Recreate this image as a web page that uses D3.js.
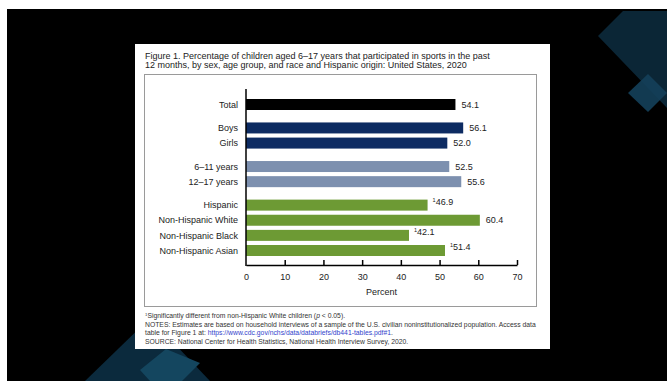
<!DOCTYPE html>
<html><head><meta charset="utf-8">
<script src="https://cdn.jsdelivr.net/npm/d3@7"></script>
<style>html,body{margin:0;padding:0;background:#fff;overflow:hidden}svg{display:block}</style>
</head><body>
<script>
const categories = ["Total","Boys","Girls","6–11 years","12–17 years","Hispanic","Non-Hispanic White","Non-Hispanic Black","Non-Hispanic Asian"];
const values = [54.1,56.1,52.0,52.5,55.6,46.9,60.4,42.1,51.4];
const groups = [0,1,1,2,2,3,3,3,3];
const significant = [false,false,false,false,false,true,false,true,true];
const groupColors = ["#000000","#0d2b62","#7d90af","#6d9a34"];
const xTicks = [0,10,20,30,40,50,60,70];
const titleLines = ["Figure 1. Percentage of children aged 6–17 years that participated in sports in the past",
                    "12 months, by sex, age group, and race and Hispanic origin: United States, 2020"];

const W = 667, H = 381;
const svg = d3.select("body").append("svg").attr("width", W).attr("height", H)
  .style("font-family", "'Liberation Sans', Arial, sans-serif");

// backdrop
svg.append("rect").attr("x",7).attr("y",9).attr("width",W-7).attr("height",H-9).attr("fill","#000");
const deco = svg.append("g");
deco.append("polygon").attr("points","598,36 623,11 667,11 667,108 646,86").attr("fill","#0b2636");
deco.append("polygon").attr("points","648,74 667,93 648,112 628,93").attr("fill","#14405a").attr("opacity",0.9);
deco.append("polygon").attr("points","85,381 150,318 210,381").attr("fill","#0b2a3d");
deco.append("polygon").attr("points","166,349 200,363 182,381 150,381 140,370").attr("fill","#14465f");

// card
svg.append("rect").attr("x",135).attr("y",44).attr("width",415).attr("height",305).attr("fill","#fff");
svg.append("rect").attr("x",144.5).attr("y",74.5).attr("width",392).attr("height",232).attr("fill","none").attr("stroke","#9a9a9a").attr("stroke-width",1);

const title = svg.append("g").attr("font-size",9).attr("fill","#222");
titleLines.forEach((t,i)=> title.append("text").attr("x",145).attr("y",58.5+i*9.5).text(t));

const x = d3.scaleLinear().domain([0,70]).range([246,517]);
const slot = categories.map((c,i)=> i + groups[i]*0.55);
const y = d3.scaleLinear().domain([0, d3.max(slot)]).range([104.5, 250.5]);
const barH = 11;

const g = svg.append("g");
g.selectAll("rect.bar").data(values).join("rect").attr("class","bar")
  .attr("x", x(0)).attr("y",(d,i)=> y(slot[i]) - barH/2)
  .attr("width", d=> x(d)-x(0)).attr("height", barH)
  .attr("fill",(d,i)=> groupColors[groups[i]]);

g.selectAll("text.cat").data(categories).join("text").attr("class","cat")
  .attr("x",238).attr("y",(d,i)=> y(slot[i])).attr("dy","0.35em")
  .attr("text-anchor","end").attr("font-size",9).attr("fill","#222").text(d=>d);

const vl = g.selectAll("text.val").data(values).join("text").attr("class","val")
  .attr("x",(d,i)=> x(d)+ (significant[i]?5:6)).attr("y",(d,i)=> y(slot[i])).attr("dy","0.35em")
  .attr("font-size",9).attr("fill","#222");
vl.each(function(d,i){
  const t = d3.select(this);
  if (significant[i]) t.append("tspan").attr("font-size",5.5).attr("dy","-0.6em").text("1");
  t.append("tspan").attr("dy", significant[i]? "0.33em":null).text(d3.format(".1f")(d));
});

// axes
g.append("line").attr("x1",x(0)).attr("x2",x(0)).attr("y1",89).attr("y2",266).attr("stroke","#000").attr("stroke-width",1.5);
const xa = g.append("g").attr("transform","translate(0,265)")
  .call(d3.axisBottom(x).tickValues(xTicks).tickSize(-5).tickSizeOuter(0).tickPadding(9));
xa.select(".domain").attr("stroke","#000").attr("stroke-width",1.5);
xa.selectAll(".tick line").attr("stroke","#000").attr("stroke-width",1.5);
xa.selectAll(".tick").filter(d=>d===0).select("line").remove();
xa.selectAll(".tick text").attr("font-size",9).attr("fill","#222").attr("font-family","'Liberation Sans', Arial, sans-serif");
g.append("text").attr("x",(x(0)+x(70))/2).attr("y",292).attr("dy","0.35em").attr("text-anchor","middle")
  .attr("font-size",9).attr("fill","#222").text("Percent");

// notes
const notes = svg.append("g").attr("font-size",6.8).attr("fill","#333");
const n1 = notes.append("text").attr("x",145).attr("y",318);
n1.append("tspan").attr("font-size",4.3).attr("dy","-2").text("1");
n1.append("tspan").attr("dy","2").text("Significantly different from non-Hispanic White children (");
n1.append("tspan").attr("font-style","italic").text("p");
n1.append("tspan").text(" < 0.05).");
notes.append("text").attr("x",145).attr("y",326.5).text("NOTES: Estimates are based on household interviews of a sample of the U.S. civilian noninstitutionalized population. Access data");
const n3 = notes.append("text").attr("x",145).attr("y",335);
n3.append("tspan").text("table for Figure 1 at: ");
n3.append("tspan").attr("fill","#3344cc").text("https://www.cdc.gov/nchs/data/databriefs/db441-tables.pdf#1");
n3.append("tspan").text(".");
notes.append("text").attr("x",145).attr("y",343.5).text("SOURCE: National Center for Health Statistics, National Health Interview Survey, 2020.");
</script>
</body></html>
